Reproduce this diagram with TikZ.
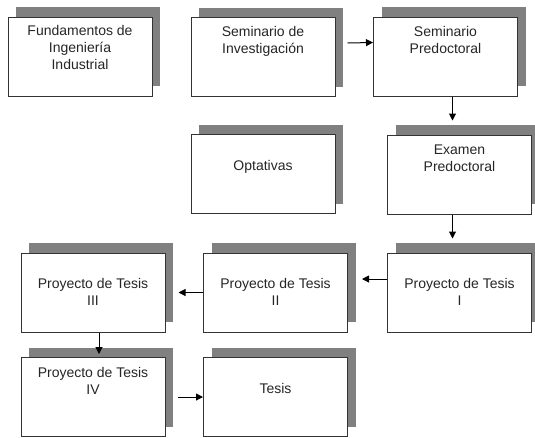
\documentclass[tikz,border=0pt]{standalone}
\usepackage{fontspec}
\setmainfont{Liberation Sans}
\usetikzlibrary{shadows,arrows.meta}
\tikzset{
  box/.style={rectangle, draw=black!80, line width=1pt, fill=white,
    minimum width=144pt, minimum height=79pt, inner sep=0pt,
    drop shadow={shadow xshift=8pt, shadow yshift=10pt, fill=black!50, opacity=1}},
  lbl/.style={anchor=north, align=center, inner sep=0pt, text=black!85,
    font=\fontsize{14}{17}\selectfont},
  arr/.style={draw=black, line width=1pt, -{Triangle[length=7pt,width=7pt]}}
}
\begin{document}
\begin{tikzpicture}[x=1pt,y=-1pt]
\useasboundingbox (0,0) rectangle (535,437);
% boxes
\node[box] (b1) at (80,56.5) {};
\node[box] (b2) at (263,57) {};
\node[box] (b3) at (445.5,56.5) {};
\node[box] (op) at (263,174) {};
\node[box] (ex) at (459.5,174.5) {};
\node[box] (p1) at (459.5,292.5) {};
\node[box] (p2) at (275.5,292.5) {};
\node[box] (p3) at (93,292.5) {};
\node[box] (p4) at (93,397) {};
\node[box] (te) at (275.5,397) {};
% texts
\node[lbl] (t1) at (80,25) {Fundamentos de\\Ingeniería\\Industrial};
\node[lbl] (t2) at (263,26) {Seminario de\\Investigación};
\node[lbl] (t3) at (445.5,26) {Seminario\\Predoctoral};
\node[lbl] (t4) at (263,160) {Optativas};
\node[lbl] (t5) at (459.5,145) {Examen\\Predoctoral};
\node[lbl] (t6) at (459.5,278) {Proyecto de Tesis\\I};
\node[lbl] (t7) at (275.5,278) {Proyecto de Tesis\\II};
\node[lbl] (t8) at (93,278) {Proyecto de Tesis\\III};
\node[lbl] (t9) at (93,367) {Proyecto de Tesis\\IV};
\node[lbl] (t10) at (275.5,383) {Tesis};
% connectors
\draw[arr] ([xshift=12pt,yshift=14pt]b2.east) -- ([yshift=14pt]b3.west);
\draw[arr] ([xshift=7pt]b3.south) -- ([xshift=-7pt,yshift=14pt]ex.north);
\draw[arr] ([xshift=-7pt]ex.south) -- ([xshift=-7pt,yshift=14pt]p1.north);
\draw[arr] ([yshift=13.5pt]p1.west) -- ([xshift=14pt,yshift=13.5pt]p2.east);
\draw[arr] (p2.west) -- ([xshift=13pt]p3.east);
\draw[arr] ([xshift=6pt]p3.south) -- ([xshift=6pt,yshift=3pt]p4.north);
\draw[arr] ([xshift=12pt]p4.east) -- (te.west);
\end{tikzpicture}
\end{document}
